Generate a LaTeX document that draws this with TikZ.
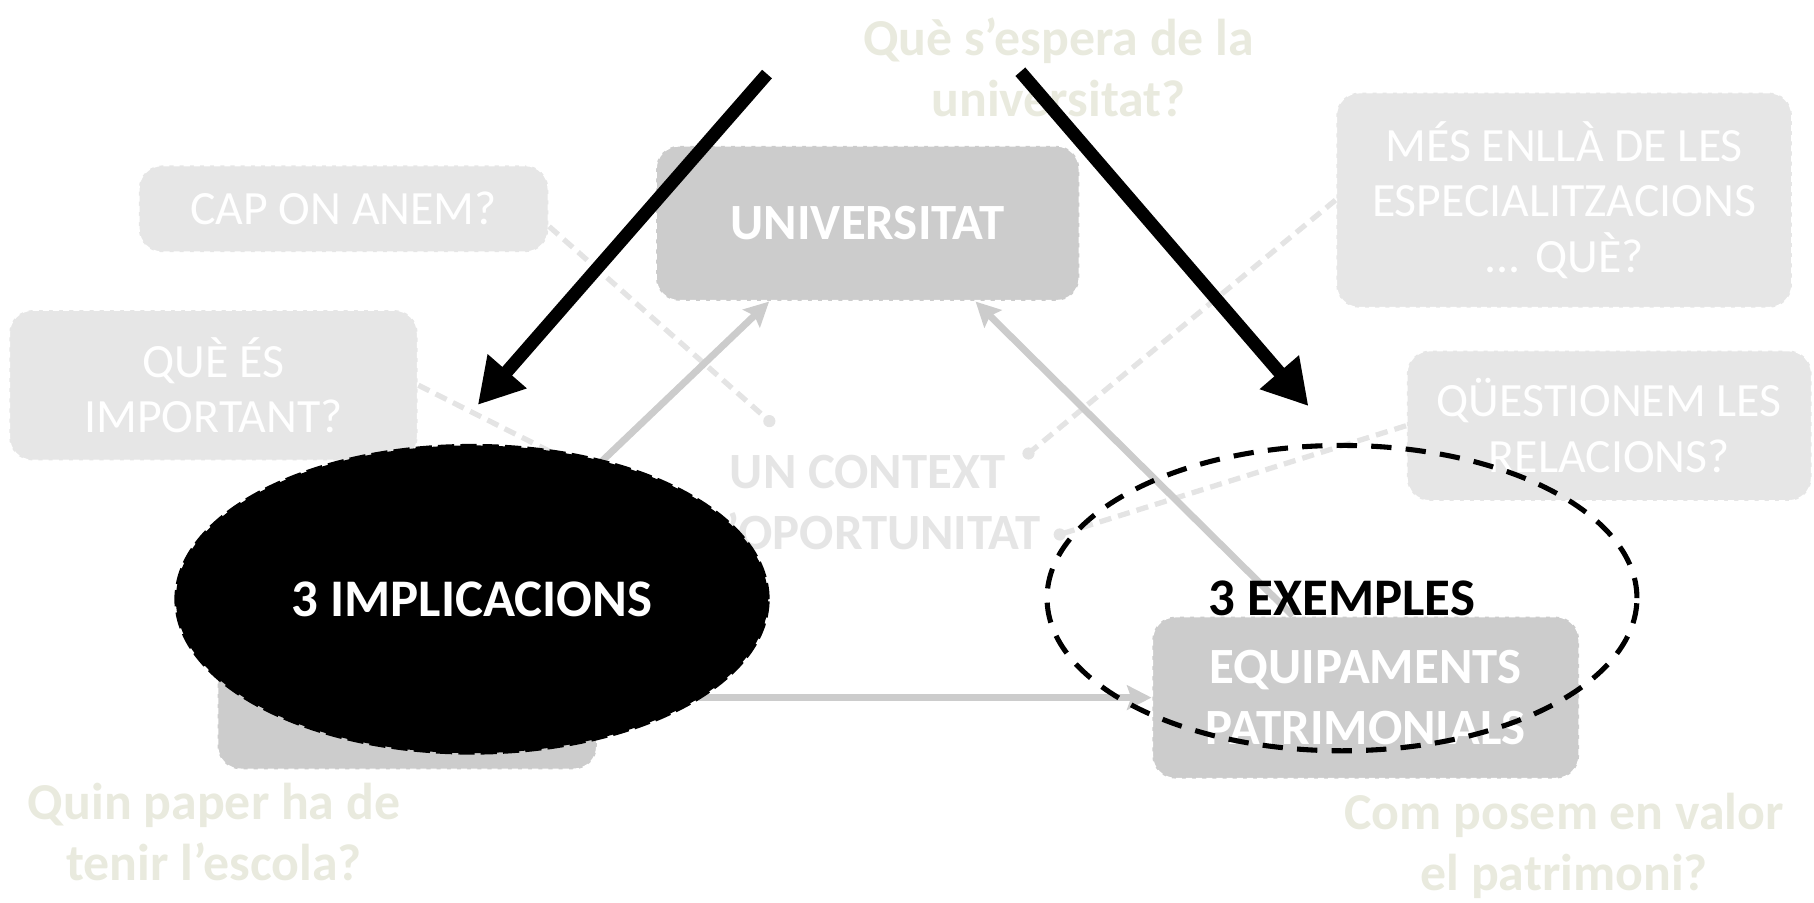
\documentclass[tikz,border=0pt]{standalone}
\usepackage{fontspec}
\setmainfont{Carlito}
\usetikzlibrary{arrows.meta,shapes.geometric,calc}
\definecolor{cDark}{RGB}{204,204,204}
\definecolor{cLight}{RGB}{230,230,230}
\definecolor{cBeige}{RGB}{233,234,222}
\definecolor{cLine}{RGB}{228,228,228}
\definecolor{cCtx}{RGB}{229,229,229}
\begin{document}
\begin{tikzpicture}[x=0.02cm,y=-0.02cm,
  darkbox/.style={rectangle, rounded corners=0.4cm, fill=cDark, draw=white, densely dashed, line width=0.8pt,
    text=white, font=\bfseries\fontsize{25}{30}\selectfont, align=center, inner sep=0pt},
  lightbox/.style={rectangle, rounded corners=0.4cm, fill=cLight, draw=white, densely dashed, line width=0.8pt,
    text=white, font=\fontsize{23.5}{27.5}\selectfont, align=center, inner sep=0pt},
  qtext/.style={text=cBeige, font=\bfseries\fontsize{25.5}{30}\selectfont, align=center, inner sep=0pt},
  ctxtext/.style={text=cCtx, font=\bfseries\fontsize{25}{30}\selectfont, align=center, inner sep=0pt},
  grayarrow/.style={draw=cDark, line width=3.4pt, -{Stealth[length=12pt,width=12pt,inset=2pt]}},
  lightdash/.style={draw=cLine, line width=2.6pt, dash pattern=on 6pt off 3.5pt},
  dotend/.style={fill=cLine},
  blackarrow/.style={draw=black, line width=6.4pt, -{Triangle[length=22pt,width=24pt]}}
]
\useasboundingbox (0,0) rectangle (1568,780);

% boxes
\node[darkbox, minimum width=7.32cm, minimum height=2.68cm] (uni) at (750,193) {UNIVERSITAT};
\node[lightbox, minimum width=7.08cm, minimum height=1.5cm] (cap) at (297,180.5) {CAP ON ANEM?};
\node[lightbox, minimum width=7.06cm, minimum height=2.6cm] (que) at (184.5,333) {QUÈ ÉS\\IMPORTANT?};
\node[lightbox, minimum width=7.88cm, minimum height=3.72cm] (mes) at (1352,173) {MÉS ENLLÀ DE LES\\ESPECIALITZACIONS\\... QUÈ?};
\node[lightbox, minimum width=7.0cm, minimum height=2.6cm] (qst) at (1391,368) {QÜESTIONEM LES\\RELACIONS?};
\node[darkbox, minimum width=6.56cm, minimum height=2.1cm] (esc) at (352,612.5) {};
\node[darkbox, minimum width=7.38cm, minimum height=2.8cm] (equip) at (1180.5,603) {EQUIPAMENTS\\PATRIMONIALS};

% light dashed connectors with dots
\coordinate (d1) at (665,364);
\coordinate (d2) at (600,453);
\coordinate (d3) at (889,392);
\coordinate (d4) at (916,462);
\draw[lightdash] ($(cap.north east)!0.7!(cap.south east)$) -- (d1);
\draw[lightdash] (que.east) -- (d2);
\draw[lightdash] (mes.west) -- (d3);
\draw[lightdash] (qst.west) -- (d4);
\foreach \d in {d1,d2,d3,d4} \fill[dotend] (\d) circle[radius=3pt];

% gray arrows
\draw[grayarrow] (esc.north) -- ($(uni.south west)!0.268!(uni.south east)$);
\draw[grayarrow] ($(equip.north west)!0.33!(equip.north east)$) -- ($(uni.south west)!0.754!(uni.south east)$);
\draw[grayarrow] (esc.east |- equip.west) -- (equip.west);

% texts
\node[ctxtext] (ctx) at (750,434.5) {UN CONTEXT\\D’OPORTUNITAT};
\node[qtext] (q1) at (915,58.5) {Què s’espera de la\\universitat?};
\node[qtext] (q2) at (185,719.5) {Quin paper ha de\\tenir l’escola?};
\node[qtext] (q3) at (1352,731.5) {Com posem en valor\\el patrimoni?};

% ellipses
\node[ellipse, fill=black, draw=black, line width=1.5pt, dash pattern=on 8pt off 3pt,
  minimum width=10.24cm, minimum height=5.32cm, inner sep=0pt, text=white,
  font=\bfseries\fontsize{26}{30}\selectfont] (ell1) at (408,518) {3 IMPLICACIONS};
\node[ellipse, draw=black, line width=2.5pt, dash pattern=on 10pt off 7pt,
  minimum width=10.2cm, minimum height=5.28cm, inner sep=0pt, text=black,
  font=\bfseries\fontsize{26}{30}\selectfont] (ell2) at (1160,517) {3 EXEMPLES};

% black arrows
\coordinate (a1s) at (663,64);
\coordinate (a1e) at (413,350);
\coordinate (a2s) at (882,62);
\coordinate (a2e) at (1131,351);
\draw[blackarrow] (a1s) -- (a1e);
\draw[blackarrow] (a2s) -- (a2e);
\end{tikzpicture}
\end{document}
